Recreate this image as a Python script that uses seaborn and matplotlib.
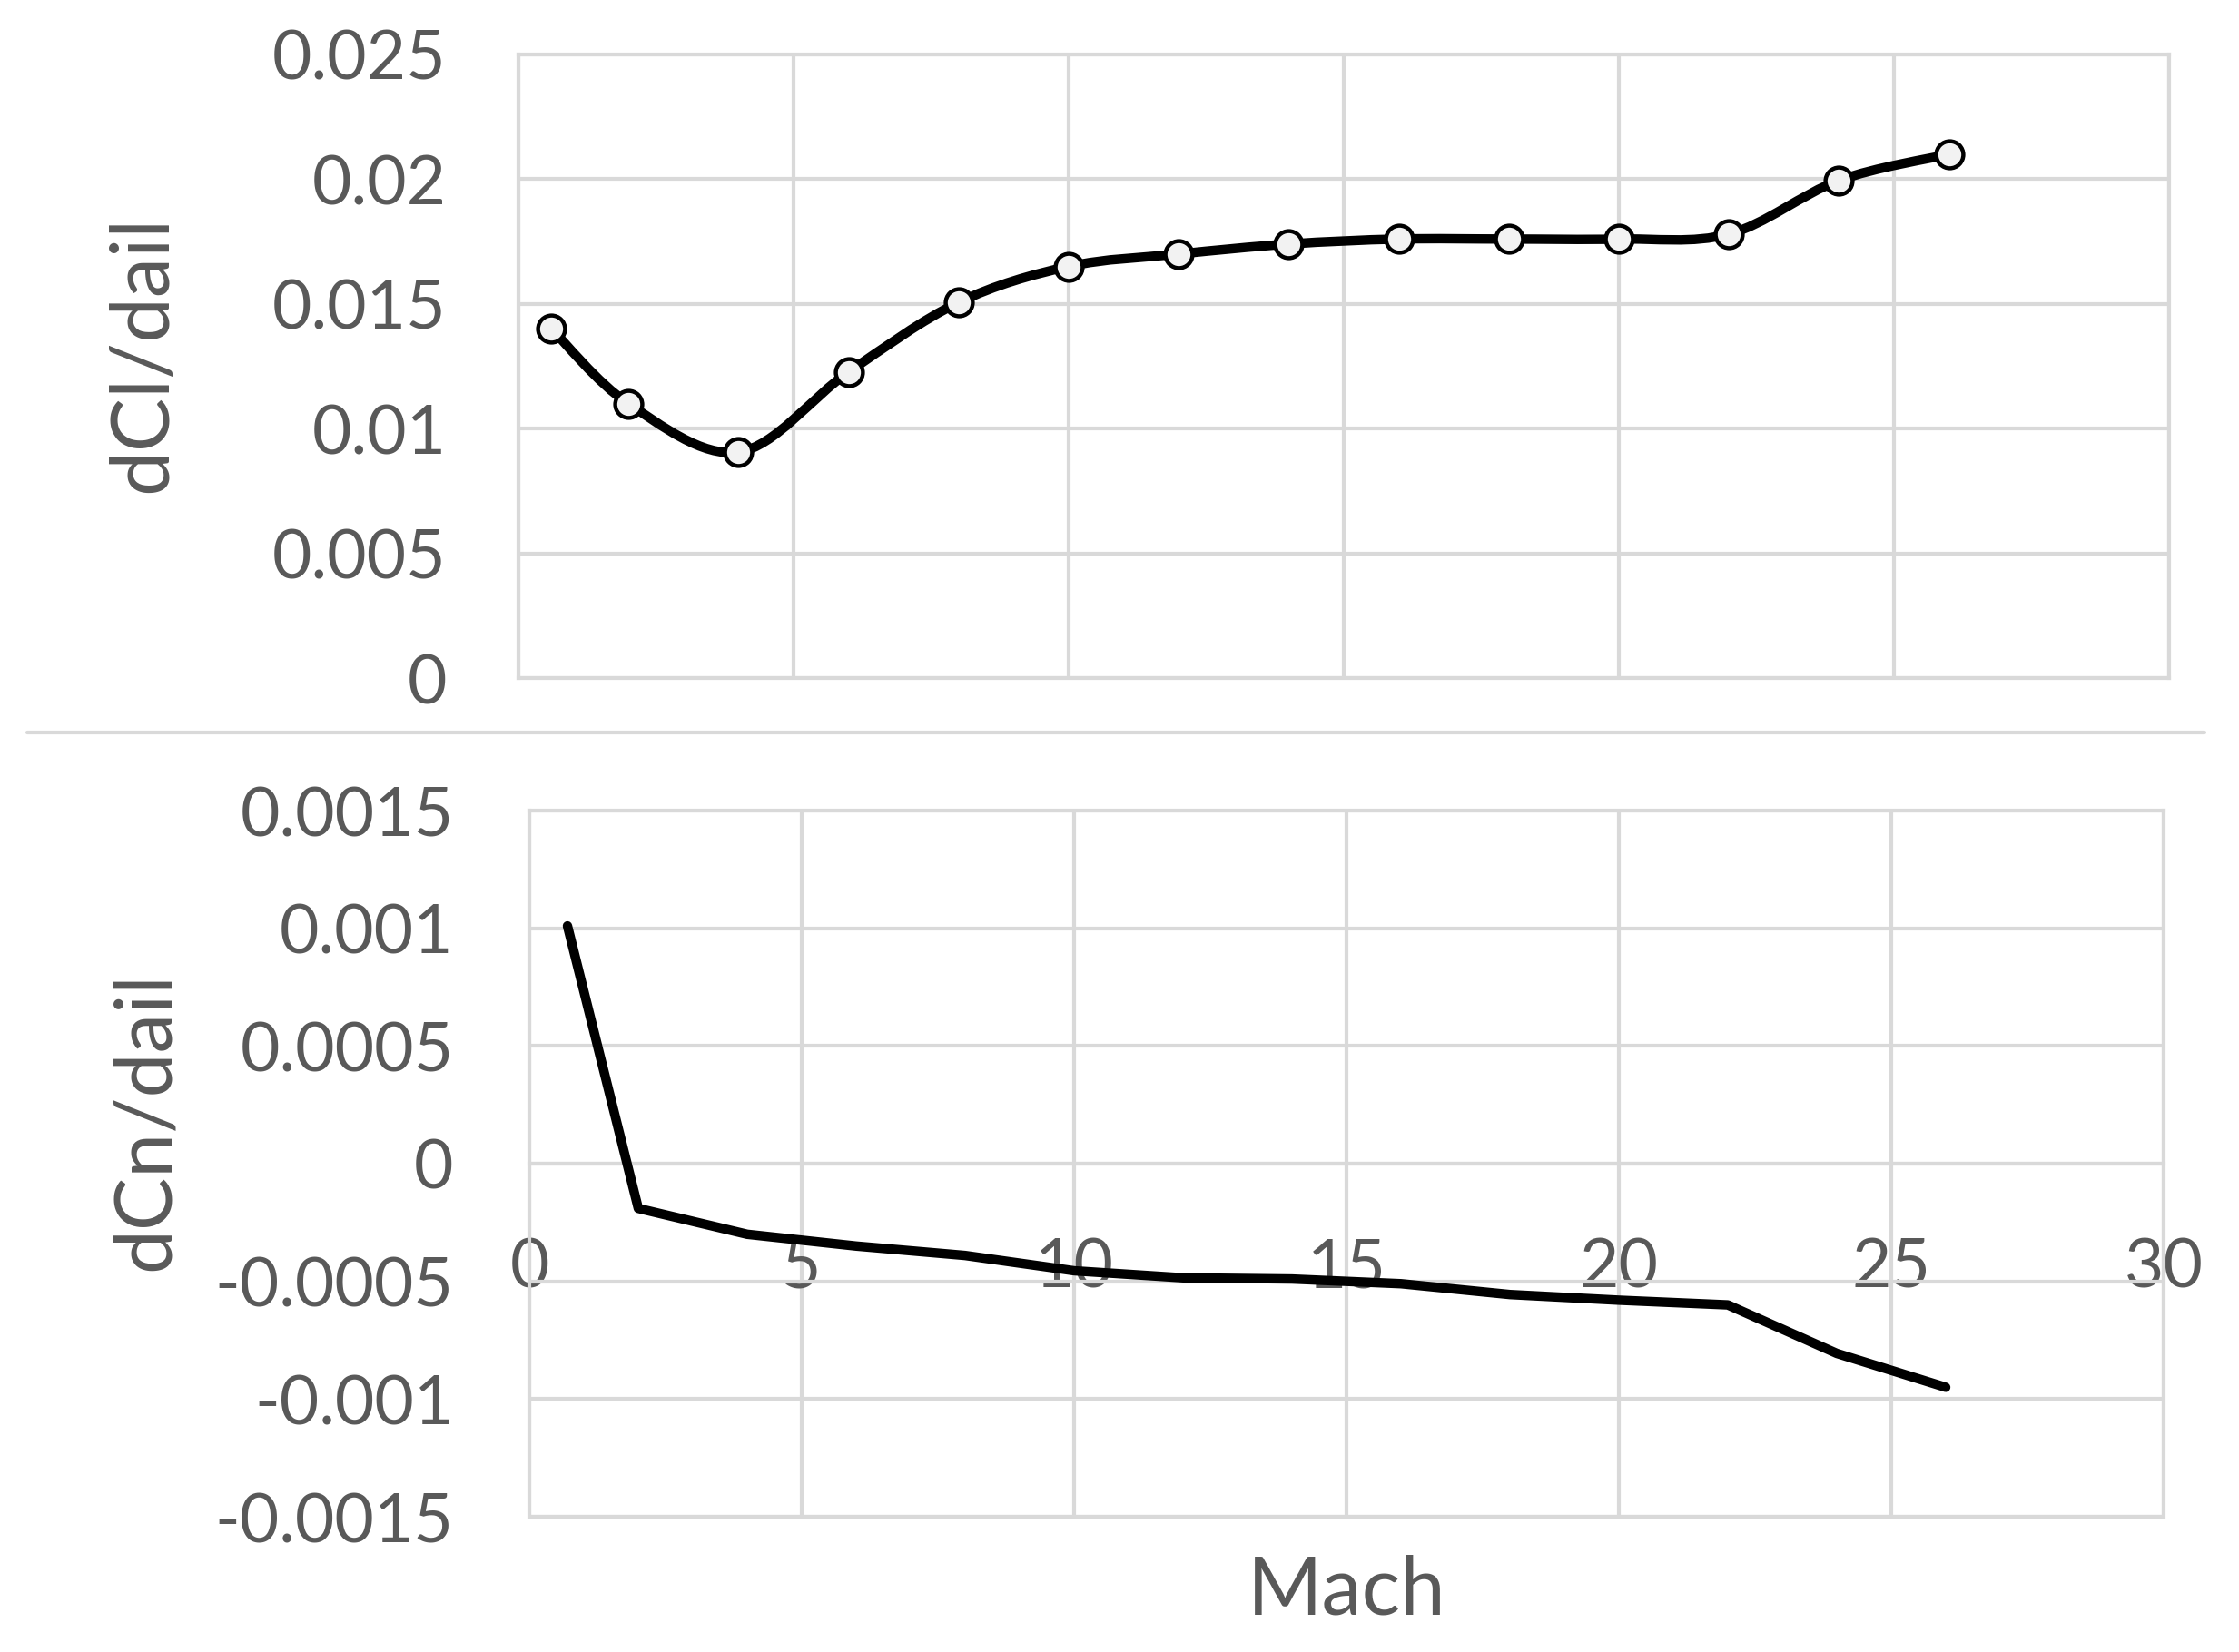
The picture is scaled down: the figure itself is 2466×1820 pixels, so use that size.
import numpy as np
import matplotlib
matplotlib.use("Agg")
import matplotlib.pyplot as plt
import seaborn as sns
from matplotlib.path import Path
from matplotlib.patches import PathPatch
from matplotlib.lines import Line2D

# ---------------- data ----------------
mach_cl = [0.6, 2, 4, 6, 8, 10, 12, 14, 16, 18, 20, 22, 24, 26]
dcl_dail = [0.0140, 0.0110, 0.00906, 0.01227, 0.01506, 0.0165, 0.0170,
            0.0174, 0.0176, 0.0176, 0.0176, 0.0178, 0.01995, 0.0210]

mach_cn = [0.7, 2, 4, 6, 8, 10, 12, 14, 16, 18, 20, 22, 24, 26]
dcn_dail = [0.00101, -0.00019, -0.00030, -0.00035, -0.00039, -0.000455, -0.000485,
            -0.00049, -0.00051, -0.000556, -0.00058, -0.0006, -0.000806, -0.00095]

x_ticks = [0, 5, 10, 15, 20, 25, 30]
x_ticklabels = ["0", "5", "10", "15", "20", "25", "30"]
cl_ticks = [0, 0.005, 0.01, 0.015, 0.02, 0.025]
cl_ticklabels = ["0", "0.005", "0.01", "0.015", "0.02", "0.025"]
cn_ticks = [-0.0015, -0.001, -0.0005, 0, 0.0005, 0.001, 0.0015]
cn_ticklabels = ["-0.0015", "-0.001", "-0.0005", "0", "0.0005", "0.001", "0.0015"]

# ---------------- style ----------------
sns.set_theme(style="whitegrid")
plt.rcParams['font.family'] = ['Lato', 'DejaVu Sans']
GRID = "#d9d9d9"
TXT = "#595959"

W, H = 2466, 1820
fig = plt.figure(figsize=(W / 100, H / 100), dpi=100)
fig.patch.set_facecolor("white")

ax1 = fig.add_axes([571 / W, 1 - 747 / H, 1818 / W, 687 / H])
ax2 = fig.add_axes([583 / W, 1 - 1671 / H, 1800 / W, 778 / H])


def smooth_path(x, y):
    pts = np.column_stack([x, y]).astype(float)
    n = len(pts)
    verts = [pts[0]]
    codes = [Path.MOVETO]
    for i in range(n - 1):
        p0 = pts[max(i - 1, 0)]
        p1 = pts[i]
        p2 = pts[i + 1]
        p3 = pts[min(i + 2, n - 1)]
        c1 = p1 + (p2 - p0) / 6.0
        c2 = p2 - (p3 - p1) / 6.0
        verts += [c1, c2, p2]
        codes += [Path.CURVE4] * 3
    return Path(verts, codes)


for ax in (ax1, ax2):
    ax.set_facecolor("white")
    ax.grid(True, color=GRID, linewidth=3)
    ax.set_axisbelow(True)
    for s in ax.spines.values():
        s.set_color(GRID)
        s.set_linewidth(3)
    ax.tick_params(length=0, labelsize=54, labelcolor=TXT)
    ax.set_xlim(0, 30)
    ax.set_xticks(x_ticks)

# ---- top panel ----
ax1.add_patch(PathPatch(smooth_path(mach_cl, dcl_dail), fill=False,
                        edgecolor="black", linewidth=7.5, capstyle="round",
                        joinstyle="round", zorder=3))
sns.scatterplot(x=mach_cl, y=dcl_dail, ax=ax1, s=460, marker="o",
                facecolor="#f2f2f2", edgecolor="black", linewidth=3.2, zorder=4)
ax1.set_ylim(0, 0.025)
ax1.set_yticks(cl_ticks)
ax1.set_yticklabels(cl_ticklabels)
ax1.set_xticklabels([""] * len(x_ticks))
ax1.tick_params(axis="y", pad=57)
ax1.set_xlabel("")
ax1.set_ylabel("dCl/dail", fontsize=64, color=TXT, va="center", ha="center",
               rotation_mode="default")
ax1.yaxis.set_label_coords(-0.227, 0.52)

# ---- bottom panel ----
sns.lineplot(x=mach_cn, y=dcn_dail, ax=ax2, color="black", linewidth=7.5,
             solid_capstyle="round", solid_joinstyle="round", zorder=3)
ax2.set_ylim(-0.0015, 0.0015)
ax2.set_yticks(cn_ticks)
ax2.set_yticklabels(cn_ticklabels)
ax2.set_xticklabels(x_ticklabels)
ax2.spines["bottom"].set_position(("data", 0))
ax2.axhline(-0.0015, color=GRID, linewidth=3, clip_on=False, zorder=0)
ax2.tick_params(axis="y", pad=60)
ax2.tick_params(axis="x", pad=58)
ax2.set_xlabel("Mach", fontsize=64, color=TXT, va="center")
ax2.xaxis.set_label_coords(0.5, -0.106)
ax2.set_ylabel("dCn/dail", fontsize=63, color=TXT, va="center", ha="center",
               rotation_mode="default")
ax2.yaxis.set_label_coords(-0.2344, 0.56)

# separator line between the two charts
fig.add_artist(Line2D([30 / W, 2428 / W], [1 - 807 / H, 1 - 807 / H],
                      transform=fig.transFigure, color=GRID, linewidth=3))

fig.savefig("out.png", dpi=100, facecolor="white")
